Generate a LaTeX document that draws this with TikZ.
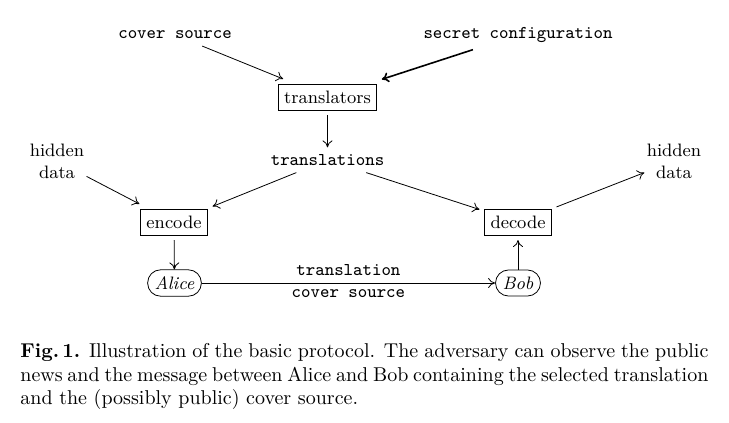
\documentclass[tikz,border=0pt]{standalone}
\usetikzlibrary{arrows.meta}

\begin{document}
\begin{tikzpicture}[x=0.5pt,y=-0.5pt,
        font=\fontsize{9}{11}\selectfont,
        >={To[length=3.5pt,width=5pt]},
        box/.style={draw, minimum height=13pt, inner xsep=3pt, outer sep=2.5pt},
        party/.style={draw, rounded corners=6.5pt, minimum height=13pt, inner xsep=3.5pt},
        tt/.style={font=\fontsize{9}{11}\ttfamily},
        hid/.style={align=center, inner sep=1pt}]
        \useasboundingbox (0,0) rectangle (729,423);

        % vstupy
        \node[tt] (cover) at (175,35) {cover source};
        \node[tt] (secret) at (518,35) {secret configuration};
        \node[box] (transl) at (327.5,97) {translators};
        \node[tt] (versions) at (327.5,160) {translations};

        \draw[->] (cover) -- (transl);
        \draw[->, thick] (secret) -- (transl);
        \draw[->] (transl) -- (versions);

        % Alice
        \node[hid] (hidin) at (57,161) {hidden\\data};
        \node[box] (enc) at (174,222) {encode};
        \node[party] (alice) at (174.5,283) {\itshape Alice};

        \draw[->] (hidin) -- (enc);
        \draw[->] (versions) -- (enc);
        \draw[->] (enc) -- (alice);

        % Bob
        \node[hid] (hidout) at (674,161) {hidden\\data};
        \node[box] (dec) at (518,222) {decode};
        \node[party] (bob) at (518,283) {\itshape Bob};

        \draw[->] (versions) -- (dec);
        \draw[->] (dec) -- (hidout);
        \draw[->] (bob) -- (dec);

        % zpráva
        \draw[->] (alice) -- node[tt, above] {translation}
        node[tt, below] {cover source} (bob);

        % popisek
        \node[anchor=north west, text width=344pt, align=justify, inner sep=0pt,
        font=\fontsize{10}{11.75}\selectfont] (caption) at (20,343)
        {\textbf{Fig.\,1.} Illustration of the basic protocol. The adversary can observe the public\linebreak
        news and the message between Alice and Bob containing the selected translation\linebreak
        and the (possibly public) cover source.};
    \end{tikzpicture}
\end{document}
